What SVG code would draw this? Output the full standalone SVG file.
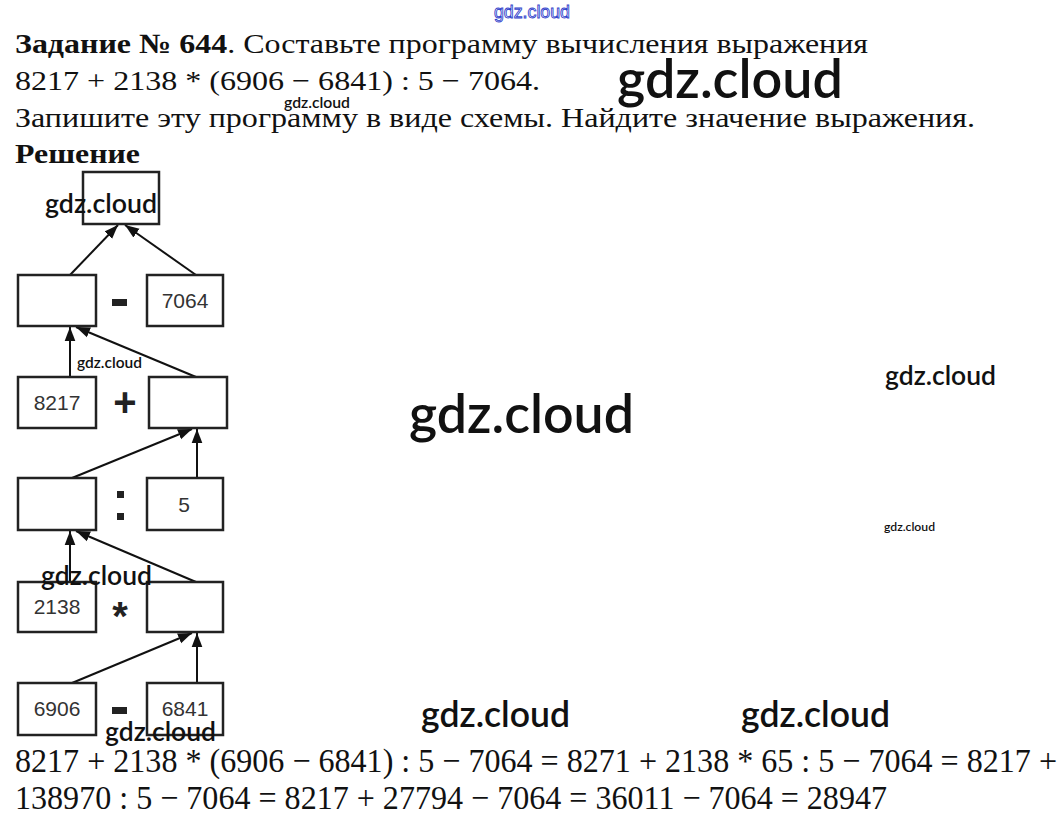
<svg xmlns="http://www.w3.org/2000/svg" width="1062" height="823" viewBox="0 0 1062 823">
<defs>
<marker id="ah" viewBox="0 0 10 10" refX="10" refY="5" markerWidth="7" markerHeight="7" markerUnits="strokeWidth" orient="auto">
<path d="M0,1.2 L10,5 L0,8.8 z" fill="#111"/>
</marker>
<style>
.hd{font-family:"Liberation Serif","Times New Roman",serif;font-size:28px;fill:#111}
.b{font-weight:bold}
.bx{fill:#fff;stroke:#222;stroke-width:2.5}
.num{font-family:"Liberation Sans",Arial,sans-serif;font-size:21px;fill:#333;text-anchor:middle}
.op{font-family:"Liberation Sans",Arial,sans-serif;font-weight:bold;fill:#222;text-anchor:middle}
.ln{stroke:#111;stroke-width:2;fill:none;marker-end:url(#ah)}
.wm{font-family:Lato,"Open Sans",sans-serif;font-weight:600;fill:#111}
.ft{font-family:"Liberation Serif","Times New Roman",serif;font-size:34px;fill:#111}
</style>
</defs>
<rect width="1062" height="823" fill="#fff"/>

<g id="heading">
<text class="hd" x="15" y="53" textLength="853" lengthAdjust="spacingAndGlyphs"><tspan class="b">Задание № 644</tspan>. Составьте программу вычисления выражения</text>
<text class="hd" x="15" y="90" textLength="525" lengthAdjust="spacingAndGlyphs">8217 + 2138 * (6906 − 6841) : 5 − 7064.</text>
<text class="hd" x="15" y="127" textLength="960" lengthAdjust="spacingAndGlyphs">Запишите эту программу в виде схемы. Найдите значение выражения.</text>
<text class="hd b" x="15" y="163" textLength="125" lengthAdjust="spacingAndGlyphs">Решение</text>
</g>

<g id="connectors">
<line class="ln" x1="70" y1="275" x2="118" y2="225"/>
<line class="ln" x1="196" y1="275" x2="125" y2="225"/>
<line class="ln" x1="70" y1="377" x2="70" y2="327"/>
<line class="ln" x1="196" y1="377" x2="76" y2="327"/>
<line class="ln" x1="72" y1="478" x2="192" y2="429"/>
<line class="ln" x1="197" y1="478" x2="197" y2="429"/>
<line class="ln" x1="70" y1="582" x2="70" y2="531"/>
<line class="ln" x1="196" y1="582" x2="76" y2="531"/>
<line class="ln" x1="72" y1="683" x2="192" y2="633"/>
<line class="ln" x1="197" y1="683" x2="197" y2="633"/>
</g>

<g id="node-result"><rect class="bx" x="83" y="172" width="76" height="52"/></g>
<g id="node-r1-left"><rect class="bx" x="18" y="275" width="78" height="51"/></g>
<g id="op-r1"><rect x="112" y="299" width="15" height="7" fill="#222"/></g>
<g id="node-7064"><rect class="bx" x="147" y="275" width="76" height="51"/><text class="num" x="185" y="308">7064</text></g>

<g id="node-8217"><rect class="bx" x="18" y="377" width="78" height="51"/><text class="num" x="57" y="410">8217</text></g>
<g id="op-r2"><text class="op" x="125" y="416" font-size="40">+</text></g>
<g id="node-r2-right"><rect class="bx" x="149" y="377" width="78" height="51"/></g>

<g id="node-r3-left"><rect class="bx" x="18" y="478" width="78" height="52"/></g>
<g id="op-r3"><rect x="117" y="491" width="7" height="7" fill="#222"/><rect x="117" y="513" width="7" height="7" fill="#222"/></g>
<g id="node-5"><rect class="bx" x="147" y="478" width="76" height="52"/><text class="num" x="184" y="512">5</text></g>

<g id="node-2138"><rect class="bx" x="18" y="582" width="78" height="50"/><text class="num" x="57" y="614">2138</text></g>
<g id="op-r4"><text class="op" x="120" y="630" font-size="40">*</text></g>
<g id="node-r4-right"><rect class="bx" x="147" y="582" width="76" height="50"/></g>

<g id="node-6906"><rect class="bx" x="18" y="683" width="78" height="52"/><text class="num" x="57" y="716">6906</text></g>
<g id="op-r5"><rect x="112" y="707" width="15" height="7" fill="#222"/></g>
<g id="node-6841"><rect class="bx" x="147" y="683" width="76" height="52"/><text class="num" x="185" y="716">6841</text></g>

<g id="footer">
<text class="ft" x="15" y="772" textLength="1042" lengthAdjust="spacingAndGlyphs">8217 + 2138 * (6906 − 6841) : 5 − 7064 = 8271 + 2138 * 65 : 5 − 7064 = 8217 +</text>
<text class="ft" x="15" y="809" textLength="872" lengthAdjust="spacingAndGlyphs">138970 : 5 − 7064 = 8217 + 27794 − 7064 = 36011 − 7064 = 28947</text>
</g>

<g id="watermarks">
<text x="494" y="18" font-family="'Liberation Sans',Arial,sans-serif" font-size="18" fill="#fff" stroke="#3344cc" stroke-width="0.9" textLength="76" lengthAdjust="spacingAndGlyphs">gdz.cloud</text>
<text class="wm" x="617" y="98" font-size="54" textLength="226" lengthAdjust="spacingAndGlyphs">gdz.cloud</text>
<text class="wm" x="284" y="108" font-size="15" textLength="66" lengthAdjust="spacingAndGlyphs">gdz.cloud</text>
<text class="wm" x="45" y="213" font-size="27" textLength="112" lengthAdjust="spacingAndGlyphs">gdz.cloud</text>
<text class="wm" x="77" y="368" font-size="15" textLength="65" lengthAdjust="spacingAndGlyphs">gdz.cloud</text>
<text class="wm" x="885" y="385" font-size="27" textLength="111" lengthAdjust="spacingAndGlyphs">gdz.cloud</text>
<text class="wm" x="409" y="433" font-size="54" textLength="225" lengthAdjust="spacingAndGlyphs">gdz.cloud</text>
<text class="wm" x="884" y="531" font-size="12" textLength="51" lengthAdjust="spacingAndGlyphs">gdz.cloud</text>
<text class="wm" x="41" y="585" font-size="27" textLength="111" lengthAdjust="spacingAndGlyphs">gdz.cloud</text>
<text class="wm" x="421" y="727" font-size="36" textLength="149" lengthAdjust="spacingAndGlyphs">gdz.cloud</text>
<text class="wm" x="741" y="727" font-size="36" textLength="149" lengthAdjust="spacingAndGlyphs">gdz.cloud</text>
<text class="wm" x="105" y="741" font-size="27" textLength="111" lengthAdjust="spacingAndGlyphs">gdz.cloud</text>
</g>
</svg>
